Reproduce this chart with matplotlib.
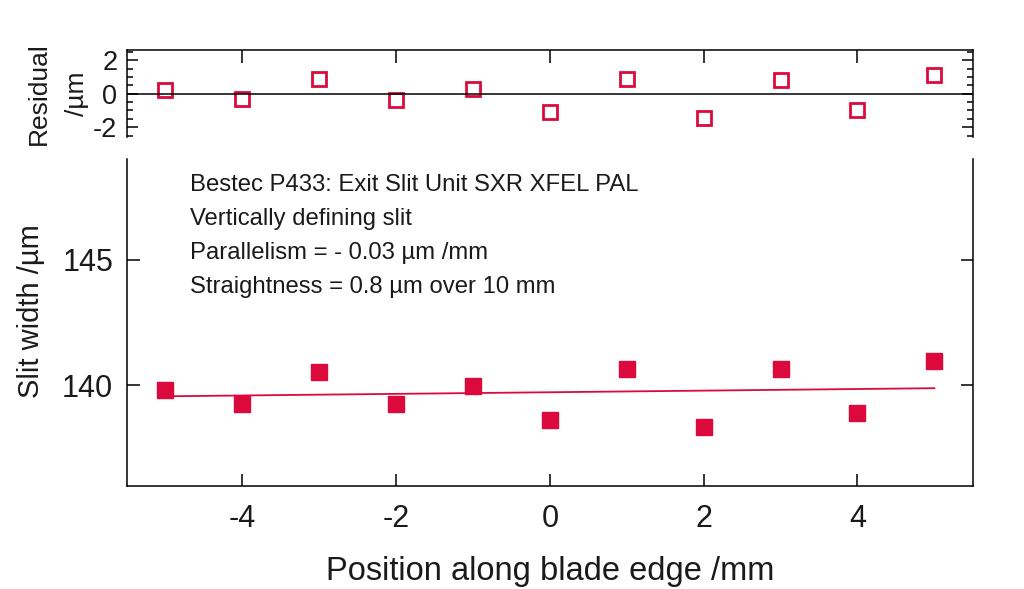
import matplotlib
matplotlib.use("Agg")
import matplotlib.pyplot as plt
import numpy as np

plt.rcParams["font.family"] = ["Liberation Sans", "DejaVu Sans"]
plt.rcParams["axes.unicode_minus"] = False

# datos
posicion = [-5, -4, -3, -2, -1, 0, 1, 2, 3, 4, 5]
ancho = [139.80, 139.27, 140.53, 139.27, 139.98, 138.62, 140.65, 138.34, 140.65, 138.90, 140.97]
texto = ["Bestec P433: Exit Slit Unit SXR XFEL PAL",
         "Vertically defining slit",
         "Parallelism = - 0.03 \u00b5m /mm",
         "Straightness = 0.8 \u00b5m over 10 mm"]

rojo = "#DC0A3C"
gris = "#1a1a1a"

# ajuste lineal y residuos
coef = np.polyfit(posicion, ancho, 1)
ajuste = np.polyval(coef, posicion)
residuo = np.array(ancho) - ajuste

fig = plt.figure(figsize=(10.24, 5.89), dpi=100)
ax = fig.add_axes([0.124, 0.175, 0.826, 0.555])
axr = fig.add_axes([0.124, 0.767, 0.826, 0.148])

# grafico principal
ax.plot(posicion, ancho, "s", color=rojo, markersize=11.5)
ax.plot(posicion, ajuste, "-", color=rojo, linewidth=1.3)
ax.set_xlim(-5.5, 5.5)
ax.set_ylim(136, 149)
ax.set_xticks([-4, -2, 0, 2, 4])
ax.set_yticks([140, 145])
ax.spines["top"].set_visible(False)
for s in ["left", "bottom", "right"]:
    ax.spines[s].set_linewidth(1.1)
ax.tick_params(direction="in", length=9, width=1.1, labelsize=22,
               labelcolor=gris, right=True)
ax.tick_params(axis="x", pad=13)
ax.tick_params(axis="y", pad=10)
ax.set_xlabel("Position along blade edge /mm", fontsize=23.5, labelpad=16,
              color=gris)
ax.set_ylabel("Slit width /\u00b5m", fontsize=21, labelpad=12, color=gris)
ax.yaxis.label.set_y(0.535)

for i, linea in enumerate(texto):
    ax.text(0.075, 0.953 - i * 0.104, linea, transform=ax.transAxes,
            fontsize=17.2, va="top", ha="left", color=gris)

# residuos
axr.plot(posicion, residuo, "s", color=rojo, markersize=10,
         markerfacecolor="none", markeredgewidth=2)
axr.axhline(0, color="black", linewidth=1.1)
axr.set_xlim(-5.5, 5.5)
axr.set_ylim(-2.6, 2.6)
axr.set_xticks([-4, -2, 0, 2, 4])
axr.set_yticks([-2, 0, 2])
axr.set_yticks(np.arange(-2.5, 2.6, 0.5), minor=True)
axr.spines["bottom"].set_visible(False)
for s in ["left", "top", "right"]:
    axr.spines[s].set_linewidth(1.1)
axr.tick_params(axis="x", direction="in", length=9, width=1.1,
                top=True, bottom=False, labelbottom=False)
axr.tick_params(axis="y", which="major", direction="in", length=8, width=1.1,
                right=True, labelsize=19.5, labelcolor=gris, pad=7)
axr.tick_params(axis="y", which="minor", direction="in", length=4, width=1.1,
                right=True)
axr.set_ylabel("Residual\n/\u00b5m", fontsize=19, labelpad=3, linespacing=1.75,
               color=gris)

fig.savefig("out.png", dpi=100)
